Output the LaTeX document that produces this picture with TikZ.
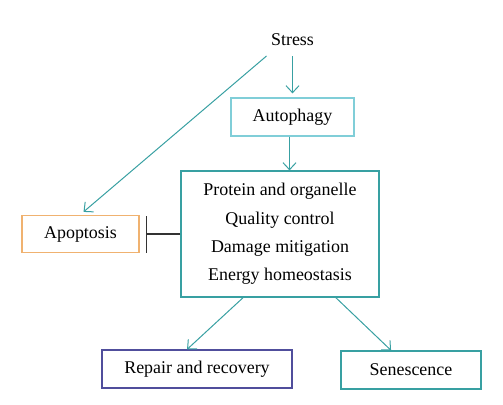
\documentclass[tikz,border=0pt]{standalone}
\usepackage{fontspec}
\setmainfont{Liberation Serif}
\usetikzlibrary{arrows.meta}

\definecolor{tealline}{RGB}{56,160,162}
\definecolor{lightteal}{RGB}{128,206,216}
\definecolor{apoporange}{RGB}{240,178,112}
\definecolor{repairblue}{RGB}{80,78,156}

\begin{document}
\begin{tikzpicture}[x=1bp, y=-1bp,
    % Styles
    box/.style={draw=tealline, line width=1.2bp, inner sep=0pt, align=center, font=\fontsize{18}{21}\selectfont},
    arrow/.style={-{Straight Barb[length=7bp, width=13bp]}, line width=1bp, tealline},
    inhibit/.style={-{Bar[width=37bp, line width=1.8bp]}, line width=1.2bp, black!80},
]

\useasboundingbox (0,0) rectangle (503,404);

% Stress
\node[font=\fontsize{18}{21}\selectfont] (stress) at (292.5,40) {Stress};

% Autophagy
\node[box, draw=lightteal, minimum width=123bp, minimum height=38bp] (auto) at (292.5,117) {Autophagy};
\draw[arrow] ([shift={(0,16)}]stress.center) -- ([shift={(0,-4)}]auto.north);

% Main functions
\node[box, minimum width=198bp, minimum height=126bp, font=\fontsize{18}{28.5}\selectfont] (main) at (280,234)
  {Protein and organelle\\Quality control\\Damage mitigation\\Energy homeostasis};
\draw[arrow] ([xshift=-3]auto.south) -- ([xshift=-3]auto.south |- main.north);

% Apoptosis
\node[box, draw=apoporange, minimum width=117bp, minimum height=37bp] (apop) at (80.5,234) {Apoptosis};
\draw[arrow] ([shift={(-26,16)}]stress.center) -- ([shift={(3,-3)}]apop.north);
\draw[inhibit] (main.west) -- ([xshift=6]apop.east);

% Outcomes
\node[box, draw=repairblue, minimum width=190bp, minimum height=38bp] (repair) at (197,369) {Repair and recovery};
\node[box, minimum width=140bp, minimum height=38bp] (sen) at (411,370) {Senescence};
\draw[arrow] ([xshift=-37]main.south) -- ([xshift=-10]repair.north);
\draw[arrow] ([xshift=56]main.south) -- ([xshift=-20]sen.north);

\end{tikzpicture}
\end{document}
